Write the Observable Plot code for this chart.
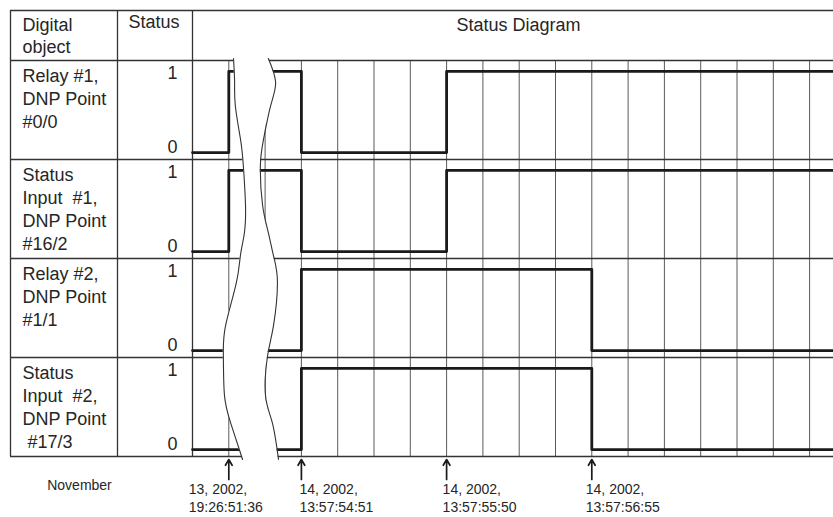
<!DOCTYPE html>
<html>
<head>
<meta charset="utf-8">
<script src="https://cdn.jsdelivr.net/npm/d3@7"></script>
<script src="https://cdn.jsdelivr.net/npm/@observablehq/plot@0.6"></script>
<style>
  html, body { margin: 0; padding: 0; background: #fff; }
  #chart { width: 833px; height: 517px; }
</style>
</head>
<body>
<div id="chart"></div>
<script>
// ---------------- data ----------------
const headerObject = "Digital\nobject";
const headerStatus = "Status";
const headerDiagram = "Status Diagram";
const objects = [
  "Relay #1,\nDNP Point\n#0/0",
  "Status\nInput\u00a0 #1,\nDNP Point\n#16/2",
  "Relay #2,\nDNP Point\n#1/1",
  "Status\nInput\u00a0 #2,\nDNP Point\n\u00a0#17/3"
];
// state before the first event, then after each event
const relay1 = [0, 1, 0, 1, 1];
const input1 = [0, 1, 0, 1, 1];
const relay2 = [0, 0, 1, 1, 0];
const input2 = [0, 0, 1, 1, 0];
const states = [relay1, input1, relay2, input2];
// events: grid cell where each happens, and its time stamp
const eventCells = [1, 3, 7, 11];
const monthLabel = "November";
const eventLabels = [
  "13, 2002,\n19:26:51:36",
  "14, 2002,\n13:57:54:51",
  "14, 2002,\n13:57:55:50",
  "14, 2002,\n13:57:56:55"
];
const statusTicks = [1, 0];
const gridCells = d3.range(1, 18);
// time-break band (in rows / grid cells)
const breakRows  = [-0.02, 0.22, 0.46, 0.79, 1.06, 1.46, 1.74, 1.97, 2.24, 2.68, 2.98, 3.38, 3.66, 4.03];
const breakLeft  = [1.13, 1.16, 1.18, 1.32, 1.40, 1.46, 1.43, 1.32, 1.21, 0.91, 0.85, 0.88, 1.05, 1.38];
const breakRight = [2.09, 2.29, 2.15, 1.96, 1.87, 1.93, 2.09, 2.23, 2.34, 2.23, 2.07, 2.01, 2.20, 2.37];

// ---------------- layout ----------------
const W = 833, H = 517;
const CELL = 36.3, X0 = 192, ROW = 99, Y0 = 60;
const cx = p => (p - X0) / CELL;   // pixel -> grid cell units
const ry = p => (p - Y0) / ROW;    // pixel -> row units
const LEVEL = v => (v ? 0.11 : 0.93);
const TICKPOS = v => (v ? 0.13 : 0.88);
const xEnd = cx(W);
const font = "Liberation Sans, Arial, Helvetica, sans-serif";
const ink = "#262626";

const signal = [];
states.forEach((s, i) => {
  signal.push({obj: i, x: 0, y: i + LEVEL(s[0])});
  eventCells.forEach((c, j) => signal.push({obj: i, x: c, y: i + LEVEL(s[j + 1])}));
  signal.push({obj: i, x: xEnd, y: i + LEVEL(s[s.length - 1])});
});
const statusText = [];
objects.forEach((o, i) => statusTicks.forEach(t => statusText.push({t: String(t), y: i + TICKPOS(t)})));
const breakData = breakRows.map((r, k) => ({y: r, l: breakLeft[k], r: breakRight[k]}));
const labelShift = [-40, -2, -4, -6]; // label offset from its arrow, px
const events = eventCells.map((c, k) => ({x: c, label: eventLabels[k], lx: c + labelShift[k] / CELL}));

const chart = Plot.plot({
  width: W, height: H,
  marginTop: 0, marginRight: 0, marginBottom: 0, marginLeft: 0,
  x: {domain: [cx(0), cx(W)], range: [0, W], axis: null},
  y: {domain: [ry(0), ry(H)], range: [0, H], axis: null},
  style: {background: "#fff", fontFamily: font},
  marks: [
    // diagram grid
    Plot.ruleX(gridCells, {y1: 0, y2: 4, stroke: "#5a5a5a", strokeWidth: 1}),
    // table lines
    Plot.ruleY([ry(10), 0, 1, 2, 3, 4], {x1: cx(10), x2: xEnd, stroke: "#333", strokeWidth: 1.3}),
    Plot.ruleX([cx(10), cx(117), 0], {y1: ry(10), y2: 4, stroke: "#333", strokeWidth: 1.3}),
    // signals
    Plot.line(signal, {x: "x", y: "y", z: "obj", curve: "step-after", stroke: "#1a1a1a", strokeWidth: 2.8}),
    // time break
    Plot.areaX(breakData, {y: "y", x1: "l", x2: "r", fill: "#fff", curve: "natural"}),
    Plot.lineX(breakData, {x: "l", y: "y", curve: "natural", stroke: "#333", strokeWidth: 1.1}),
    Plot.lineX(breakData, {x: "r", y: "y", curve: "natural", stroke: "#333", strokeWidth: 1.1}),
    // header
    Plot.text([headerObject], {x: cx(22), y: ry(15), text: d => d, textAnchor: "start", lineAnchor: "top", fontSize: 18, lineHeight: 1.22, fill: ink}),
    Plot.text([headerStatus], {x: cx(128), y: ry(15), text: d => d, textAnchor: "start", lineAnchor: "top", fontSize: 18, fill: ink}),
    Plot.text([headerDiagram], {x: cx(518), y: ry(18), text: d => d, textAnchor: "middle", lineAnchor: "top", fontSize: 18, fill: ink}),
    // object labels
    Plot.text(objects, {x: cx(22), y: (d, i) => i + 0.05, text: d => d, textAnchor: "start", lineAnchor: "top", fontSize: 18, lineHeight: 1.28, fill: ink}),
    // status tick labels
    Plot.text(statusText, {x: cx(177), y: "y", text: "t", textAnchor: "end", lineAnchor: "middle", fontSize: 18, fill: ink}),
    // event arrows and labels
    Plot.arrow(events, {x1: "x", x2: "x", y1: ry(479), y2: ry(459), stroke: "#1a1a1a", strokeWidth: 1.7, headLength: 6}),
    Plot.text(events, {x: "lx", y: ry(481), text: "label", textAnchor: "start", lineAnchor: "top", fontSize: 14, lineHeight: 1.29, fill: ink}),
    Plot.text([monthLabel], {x: cx(79), y: ry(480), text: d => d, textAnchor: "middle", lineAnchor: "top", fontSize: 14, fill: ink})
  ]
});
document.getElementById("chart").appendChild(chart);
</script>
</body>
</html>
